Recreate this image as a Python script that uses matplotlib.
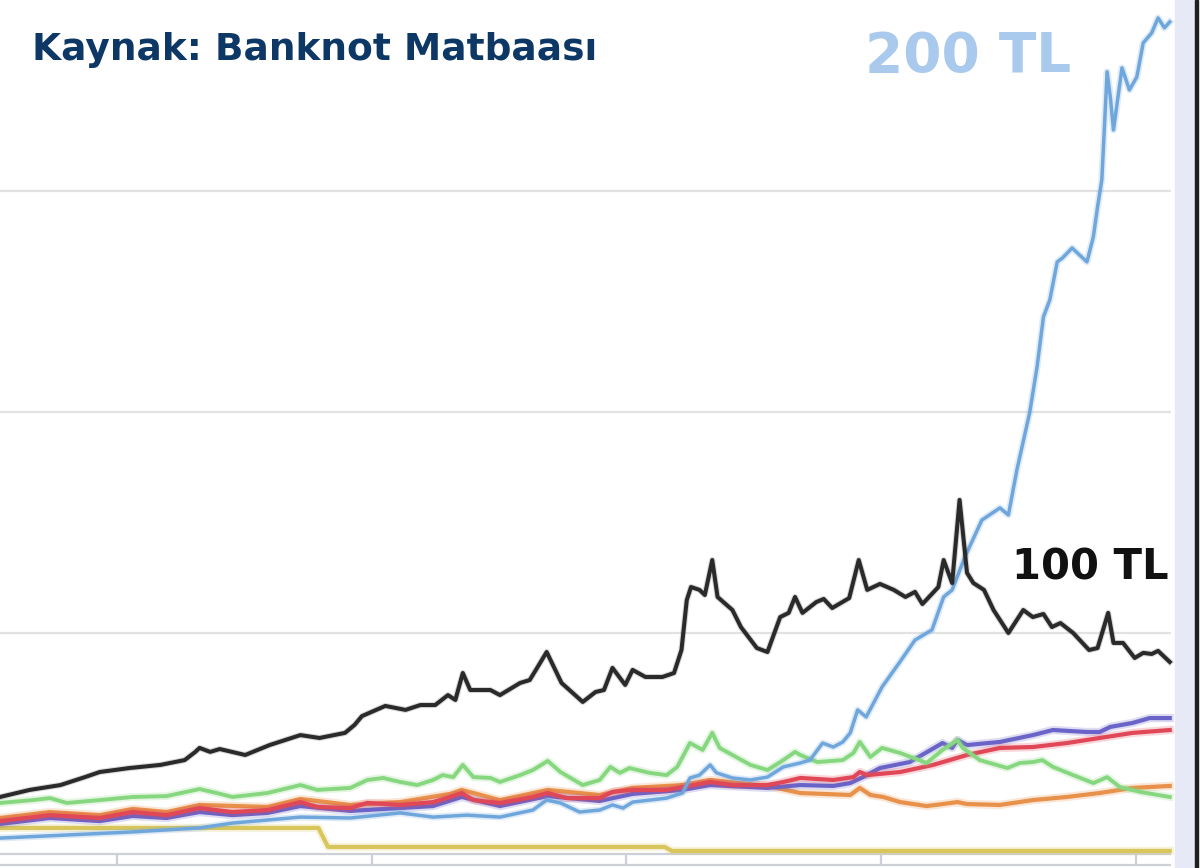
import matplotlib
matplotlib.use("Agg")
import matplotlib.pyplot as plt
from matplotlib.patches import Rectangle

plt.rcParams['font.family'] = ['DejaVu Sans']

# --- data: months since start (x) and banknotes in circulation (arbitrary units, y) ---
black_x = [0.0, 2.8, 5.7, 8.0, 9.4, 12.2, 15.1, 17.4, 18.4, 18.8, 19.8, 20.7, 23.1, 25.4,
           28.3, 30.1, 32.5, 33.4, 34.1, 36.3, 38.2, 39.6, 41.0, 42.2, 42.9, 43.6, 44.3,
           46.2, 47.1, 49.0, 49.9, 50.6, 51.5, 52.9, 54.9, 56.1, 56.9, 57.7, 58.9, 59.6,
           60.8, 62.4, 63.5, 64.2, 64.7, 65.1, 65.9, 66.4, 67.1, 67.6, 69.0, 69.8, 71.3,
           72.3, 73.5, 74.3, 74.9, 75.6, 76.9, 77.6, 78.4, 80.0, 80.9, 81.7, 82.9, 84.2,
           85.3, 86.2, 86.9, 88.4, 88.9, 89.7, 90.4, 91.1, 91.7, 92.7, 93.6, 95.0, 96.4,
           97.3, 98.3, 99.1, 99.9, 101.1, 102.6, 103.4, 104.4, 104.9, 105.8, 106.9, 107.7,
           108.5, 109.1, 110.2]
black_y = [25.8, 29.0, 31.2, 34.8, 37.1, 38.9, 40.3, 42.5, 46.2, 48.0, 46.2, 47.5, 44.8, 49.3,
           53.8, 52.5, 54.8, 58.4, 62.4, 67.0, 65.2, 67.4, 67.4, 71.9, 69.7, 81.9, 74.2,
           74.2, 71.9, 77.4, 78.7, 84.2, 91.4, 77.4, 68.8, 73.3, 74.2, 84.2, 76.5, 83.3,
           80.1, 80.1, 81.9, 92.3, 114.9, 120.8, 119.5, 117.2, 133.0, 116.3, 110.4, 102.7, 93.2,
           91.4, 107.2, 109.1, 116.3, 109.1, 114.0, 115.4, 111.3, 115.8, 133.0, 119.5, 122.2, 119.5,
           116.3, 118.6, 113.1, 120.8, 133.0, 122.6, 160.2, 127.2, 122.6, 119.5, 110.4, 100.0, 110.4,
           107.2, 108.6, 102.7, 104.5, 100.0, 92.3, 93.2, 109.1, 95.5, 95.5, 88.7, 91.0,
           90.5, 91.9, 86.9]

blue_x = [0.0, 6.3, 12.5, 18.8, 21.9, 28.3, 33.0, 37.7, 40.8, 44.0, 47.1, 50.2, 51.5, 52.8,
          54.6, 56.5, 57.7, 58.7, 59.6, 62.8, 64.3, 65.0, 65.9, 66.9, 67.5, 69.0, 70.7, 72.3,
          73.8, 75.4, 76.3, 77.5, 78.5, 79.4, 80.1, 80.8, 81.6, 83.1, 84.7, 86.2, 87.8, 88.9,
          89.7, 90.9, 92.5, 94.2, 95.0, 95.8, 97.0, 97.7, 98.3, 98.9, 99.6, 100.1, 101.0,
          102.4, 103.0, 103.4, 103.8, 104.3, 104.6, 104.9, 105.7, 106.4, 107.1, 107.7, 108.5,
          109.1, 109.7, 110.2]
blue_y = [7.2, 8.6, 10.0, 11.8, 14.0, 16.7, 16.3, 18.6, 16.7, 17.6, 16.7, 19.9, 24.4, 23.1,
          19.0, 19.9, 22.2, 20.8, 23.5, 25.3, 27.6, 34.4, 35.7, 40.3, 36.7, 34.4, 33.5, 34.8,
          39.4, 41.2, 42.5, 50.2, 48.4, 50.7, 54.8, 65.2, 62.0, 75.6, 86.4, 96.8, 101.4, 116.3,
          119.5, 134.4, 151.1, 156.6, 153.4, 173.8, 199.6, 220.4, 243.0, 250.7, 267.9, 269.7, 274.2,
          267.9, 279.2, 292.8, 305.0, 353.9, 342.5, 327.6, 355.7, 345.7, 351.6, 367.0, 371.5,
          378.3, 373.8, 376.5]

green_x = [0.0, 3.1, 4.7, 6.3, 9.4, 12.5, 15.7, 18.8, 20.4, 21.9, 25.2, 28.3, 29.9, 33.0,
           34.6, 36.1, 37.7, 39.3, 40.8, 41.7, 42.7, 43.6, 44.6, 46.2, 47.1, 49.0, 50.2, 51.6,
           52.8, 54.9, 56.5, 57.5, 58.4, 59.3, 61.2, 62.8, 63.8, 65.0, 66.2, 67.1, 67.8, 69.0,
           70.7, 72.3, 73.8, 74.9, 75.4, 77.0, 79.4, 80.4, 81.0, 82.0, 83.1, 84.8, 87.3, 88.8,
           90.2, 90.7, 92.3, 94.9, 96.1, 97.3, 98.2, 99.2, 101.1, 103.0, 104.3, 105.5, 107.4, 110.2]
green_y = [23.1, 24.4, 25.3, 23.1, 24.4, 25.8, 26.2, 29.4, 27.6, 25.8, 27.6, 31.2, 29.0, 29.9,
           33.5, 34.4, 32.6, 31.2, 33.5, 35.7, 34.8, 40.3, 34.8, 34.4, 32.6, 35.7, 38.0, 42.1,
           37.1, 31.2, 33.5, 39.4, 36.7, 38.9, 36.7, 35.7, 39.4, 50.2, 47.1, 54.8, 48.0, 44.8,
           40.3, 38.0, 42.5, 46.2, 44.8, 41.6, 42.5, 45.7, 50.7, 43.9, 48.0, 45.7, 41.2, 47.1,
           51.6, 48.0, 42.5, 38.9, 41.2, 41.6, 42.5, 39.4, 35.7, 32.1, 34.8, 30.3, 28.1, 25.8]

red_x = [0.0, 4.7, 9.4, 12.5, 15.7, 18.8, 21.9, 25.2, 28.3, 29.9, 33.0, 34.6, 37.7, 40.8,
         42.4, 43.5, 44.6, 47.1, 50.2, 51.6, 53.4, 56.5, 57.7, 59.6, 62.8, 64.3, 66.9, 69.0,
         72.3, 73.8, 75.4, 78.5, 80.4, 81.0, 81.7, 84.8, 87.9, 91.1, 94.2, 97.3, 100.5, 103.6,
         106.7, 110.2]
red_y = [14.9, 17.6, 16.3, 19.0, 17.6, 20.8, 19.0, 19.9, 23.5, 21.3, 20.8, 23.1, 22.2, 23.5,
         25.8, 27.6, 24.4, 23.1, 25.8, 27.6, 25.3, 25.3, 28.1, 29.0, 29.0, 30.3, 32.6, 31.2,
         31.2, 32.6, 34.4, 33.5, 34.8, 37.1, 35.7, 37.1, 40.3, 44.8, 48.0, 48.4, 50.2, 52.5,
         54.8, 56.1]

purple_x = [0.0, 4.7, 9.4, 12.5, 15.7, 18.8, 21.9, 25.2, 28.3, 33.0, 37.7, 40.8, 43.5, 47.1,
            51.6, 56.5, 59.6, 64.3, 66.9, 72.3, 75.4, 78.5, 80.1, 81.3, 82.9, 85.7, 88.8, 89.7,
            90.2, 91.1, 94.2, 97.3, 99.2, 102.4, 103.6, 104.6, 106.7, 108.3, 110.2]
purple_y = [13.6, 16.3, 14.9, 17.2, 16.3, 19.0, 17.6, 18.6, 21.7, 19.5, 20.8, 21.7, 25.8, 21.7,
            26.2, 24.0, 27.2, 29.0, 31.2, 29.9, 31.2, 30.8, 32.1, 34.8, 38.9, 41.6, 50.2, 48.0,
            51.6, 49.3, 50.7, 53.8, 56.1, 55.2, 55.2, 57.5, 59.3, 61.5, 61.5]

orange_x = [0.0, 4.7, 9.4, 12.5, 15.7, 18.8, 25.2, 28.3, 33.0, 37.7, 42.4, 43.5, 47.1, 51.6,
            56.5, 59.6, 64.3, 66.9, 72.3, 75.4, 80.1, 81.0, 82.0, 83.2, 84.8, 87.3, 88.8, 90.2,
            91.1, 94.2, 97.3, 100.5, 103.6, 106.7, 110.2]
orange_y = [16.3, 19.0, 17.6, 20.4, 19.0, 22.2, 21.3, 24.9, 22.2, 23.5, 27.2, 29.0, 24.4, 29.0,
            26.7, 29.9, 31.2, 33.5, 30.8, 27.6, 26.7, 29.9, 26.7, 25.8, 23.5, 21.7, 22.6, 23.5,
            22.6, 22.2, 24.4, 25.8, 27.6, 29.9, 30.8]

yellow_x = [0.0, 30.0, 30.9, 62.6, 63.3, 110.2]
yellow_y = [11.8, 11.8, 3.2, 3.2, 1.4, 1.4]

grid_values = [100, 200, 300]
tick_months = [11, 35, 59, 83, 107]

fig = plt.figure(figsize=(12, 8.68), dpi=100)
ax = fig.add_axes([0, 0, 1, 1])
ax.set_xlim(0, 113.05)
ax.set_ylim(-6.33, 386.4)
ax.axis('off')

x_end = 110.3
for v in grid_values:
    ax.hlines(v, 0, x_end, color='#e2e2e2', lw=1.6, zorder=1)
ax.hlines(0, 0, x_end, color='#cdd0d6', lw=1.6, zorder=1)
ax.hlines(-5, 0, x_end, color='#cdd0d6', lw=1.6, zorder=1)
ax.vlines(tick_months, -5, 0, color='#cdd0d6', lw=1.6, zorder=1)

series = [
    (yellow_x, yellow_y, '#d8c65c', 3.0),
    (orange_x, orange_y, '#e8914a', 3.0),
    (purple_x, purple_y, '#6a64c8', 3.0),
    (red_x, red_y, '#e04858', 3.0),
    (green_x, green_y, '#86d77f', 2.8),
    (blue_x, blue_y, '#6fa6dc', 2.5),
]
for i, (xs, ys, c, lw) in enumerate(series):
    ax.plot(xs, ys, color=c, lw=lw * 2.0, alpha=0.22, solid_joinstyle='round', zorder=2 + i)
    ax.plot(xs, ys, color=c, lw=lw, solid_joinstyle='round', zorder=2 + i)

ax.plot(black_x, black_y, color='#2a2a2a', lw=4.4, alpha=0.18, solid_joinstyle='round', zorder=10)
ax.plot(black_x, black_y, color='#2a2a2a', lw=2.9, solid_joinstyle='round', zorder=10)

# right side panel
fig.patches.append(Rectangle((1175 / 1200, 0), 20 / 1200, 1, transform=fig.transFigure,
                             color='#e7eaf6', zorder=0))
fig.patches.append(Rectangle((1195 / 1200, 0), 3 / 1200, 1, transform=fig.transFigure,
                             color='#1f1f1f', zorder=0))

fig.text(32 / 1200, 1 - 60 / 868, 'Kaynak: Banknot Matbaası', fontsize=27, fontweight='bold',
         color='#0d3866', va='baseline', ha='left')
fig.text(865 / 1200, 1 - 72 / 868, '200 TL', fontsize=39.5, fontweight='bold',
         color='#a9caec', va='baseline', ha='left')
fig.text(1012 / 1200, 1 - 579 / 868, '100 TL', fontsize=30, fontweight='bold',
         color='#111111', va='baseline', ha='left')

fig.savefig('out.png', dpi=100)
